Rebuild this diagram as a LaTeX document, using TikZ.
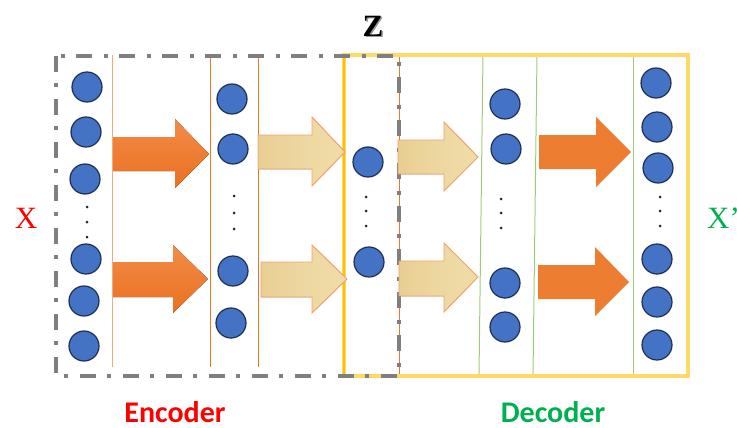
\documentclass[tikz,border=0pt]{standalone}
\usepackage{fontspec}
\setmainfont{Liberation Serif}
\newfontfamily\labelfont{Carlito}
\definecolor{nodeblue}{HTML}{4472C4}
\definecolor{nodeedge}{HTML}{1F3050}
\definecolor{encred}{HTML}{FF0000}
\definecolor{decgreen}{HTML}{00B050}
\definecolor{boxgray}{HTML}{7F7F7F}
\definecolor{boxyellow}{HTML}{FFD966}
\definecolor{edgeyellow}{HTML}{FFC000}
\definecolor{lineorange}{HTML}{E8782E}
\definecolor{linepeach}{HTML}{F2AA7C}
\definecolor{linegreen}{HTML}{9CCC7A}
\definecolor{arroworange}{HTML}{ED7D31}
\definecolor{arrowlight}{HTML}{F28C48}
\definecolor{arrowdark}{HTML}{EA7020}
\definecolor{paper}{RGB}{232,206,146}
\definecolor{paperlight}{RGB}{240,220,168}
\definecolor{paperedge}{HTML}{F2A068}
\begin{document}
\begin{tikzpicture}[x=1pt,y=-1pt,
  unit/.style={circle,fill=nodeblue,draw=nodeedge,line width=1.2pt,minimum size=30pt,inner sep=0pt},
  dotmark/.style={circle,fill=black!85,inner sep=0pt,minimum size=3pt},
  layerline/.style={line width=1pt},
  grayframe/.style={draw=boxgray,line width=3.8pt,dash pattern=on 16pt off 11pt on 4pt off 12pt},
  yellowframe/.style={draw=boxyellow,line width=3.5pt},
  solidarrow/.style={fill=arroworange,draw=none},
  gradarrow/.style={top color=arrowlight,bottom color=arrowdark,draw=none},
  paperarrow/.style={left color=paper,right color=paperlight,middle color=paperlight!70!paper,draw=paperedge,line width=0.9pt},
  tag/.style={inner sep=0pt,font=\fontsize{31}{33}\selectfont},
  caption/.style={inner sep=0pt,anchor=base,font=\labelfont\bfseries\fontsize{30}{32}\selectfont}]
\useasboundingbox (0,0) rectangle (737,428);
\clip (0,0) rectangle (737,428);

% layer separators
\draw[layerline,draw=linepeach] (112,55) -- (112,367);
\draw[layerline,draw=lineorange] (210,55) -- (210,367);
\draw[layerline,draw=lineorange] (258,55) -- (258,367);
\draw[layerline,draw=lineorange] (399,55) -- (399,377);
\draw[layerline,draw=linegreen] (483,55) -- (479,376);
\draw[layerline,draw=linegreen] (537,55) -- (533,376);
\draw[layerline,draw=linegreen] (633,55) -- (633,376);

% decoder frame and encoder frame
\draw[yellowframe] (344,55) rectangle (688,376);
\draw[draw=edgeyellow,line width=1.2pt] (344,55) -- (344,376);
\draw[grayframe] (56,56) rectangle (399,376);

% block arrows between layers
\fill[gradarrow] (113,137) -- (175,137) -- (175,119) -- (209,154) -- (175,188) -- (175,171) -- (113,171) -- cycle;
\fill[gradarrow] (113,262) -- (173,262) -- (173,245) -- (208,279) -- (173,313) -- (173,297) -- (113,297) -- cycle;
\filldraw[paperarrow] (258,135) -- (312,135) -- (312,117) -- (345,152) -- (312,186) -- (312,169) -- (258,169) -- cycle;
\filldraw[paperarrow] (261,262) -- (312,262) -- (312,245) -- (347,279) -- (312,313) -- (312,297) -- (261,297) -- cycle;
\filldraw[paperarrow] (398,140) -- (444,140) -- (444,122) -- (478,157) -- (444,191) -- (444,174) -- (398,174) -- cycle;
\filldraw[paperarrow] (399,261) -- (444,261) -- (444,243) -- (478,277) -- (444,312) -- (444,296) -- (399,296) -- cycle;
\fill[solidarrow] (539,135) -- (596,135) -- (596,117) -- (631,152) -- (596,187) -- (596,169) -- (539,169) -- cycle;
\fill[solidarrow] (538,265) -- (595,265) -- (595,247) -- (629,282) -- (595,316) -- (595,299) -- (538,299) -- cycle;

% input layer
\node[unit] (in1) at (87,87) {};
\node[unit] (in2) at (86,132) {};
\node[unit] (in3) at (85,179) {};
\node[dotmark] (ind1) at (87,207) {};
\node[dotmark] (ind2) at (87,222) {};
\node[dotmark] (ind3) at (87,237) {};
\node[unit] (in4) at (86,259) {};
\node[unit] (in5) at (84,301) {};
\node[unit] (in6) at (84,346) {};

% hidden encoder layer
\node[unit] (h1) at (232,99) {};
\node[unit] (h2) at (233,149) {};
\node[dotmark] (hd1) at (234,196) {};
\node[dotmark] (hd2) at (234,213) {};
\node[dotmark] (hd3) at (234,229) {};
\node[unit] (h3) at (233,271) {};
\node[unit] (h4) at (231,323) {};

% code layer
\node[unit] (z1) at (368,162) {};
\node[dotmark] (zd1) at (366,197) {};
\node[dotmark] (zd2) at (366,211) {};
\node[dotmark] (zd3) at (366,226) {};
\node[unit] (z2) at (369,262) {};

% hidden decoder layer
\node[unit] (g1) at (505,104) {};
\node[unit] (g2) at (506,149) {};
\node[dotmark] (gd1) at (501,199) {};
\node[dotmark] (gd2) at (501,213) {};
\node[dotmark] (gd3) at (501,228) {};
\node[unit] (g3) at (505,283) {};
\node[unit] (g4) at (505,327) {};

% output layer
\node[unit] (o1) at (656,83) {};
\node[unit] (o2) at (657,127) {};
\node[unit] (o3) at (658,168) {};
\node[dotmark] (od1) at (660,197) {};
\node[dotmark] (od2) at (660,211) {};
\node[dotmark] (od3) at (660,226) {};
\node[unit] (o4) at (657,259) {};
\node[unit] (o5) at (657,302) {};
\node[unit] (o6) at (657,345) {};

% labels
\node[tag,text=black!40] at (374.4,27.4) {\bfseries Z};
\node[tag,text=black] (zlabel) at (373,26) {\bfseries Z};
\node[tag,text=encred] (xlabel) at (26,218) {X};
\node[tag,text=decgreen,anchor=west] (xplabel) at (707,218) {X'};
\node[caption,text=encred] (enc) at (175,422) {Encoder};
\node[caption,text=decgreen] (dec) at (553,422) {Decoder};
\end{tikzpicture}
\end{document}
